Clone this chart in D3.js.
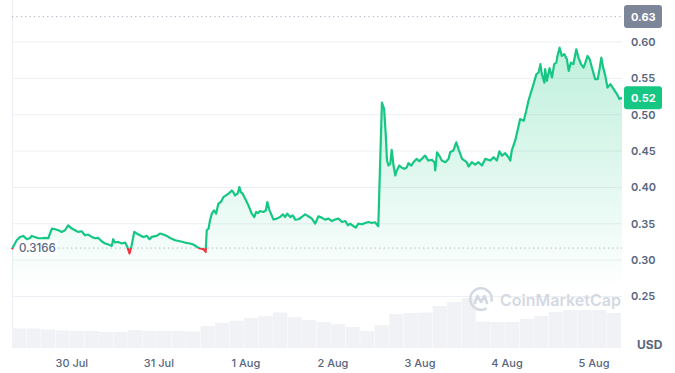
<!DOCTYPE html>
<html>
<head>
<meta charset="utf-8">
<script src="https://cdn.jsdelivr.net/npm/d3@7"></script>
<style>
  body { margin: 0; background: #fff; }
  svg { display: block; font-family: Inter, "Noto Sans", sans-serif; }
</style>
</head>
<body>
<svg id="chart" width="675" height="373"></svg>
<script>
// price: [hours since 29 Jul 00:00, USD]
const pricePoints = [
  [7.5,0.3151],[7.8,0.3182],[8.8,0.3274],[9.7,0.3319],[10.6,0.3333],[11.6,0.3288],[12.5,0.3305],[12.9,0.3333],
  [13.8,0.3319],[14.8,0.3301],[15.7,0.3301],[16.6,0.3305],[17.5,0.3301],[18.5,0.3434],[19.4,0.3425],[20.3,0.3411],
  [21.2,0.3388],[22.1,0.3411],[23.0,0.3479],[24.0,0.3434],[24.9,0.3411],[25.8,0.3388],[26.7,0.3397],[27.6,0.3342],
  [28.5,0.3352],[29.5,0.3319],[30.4,0.3301],[31.3,0.3305],[32.2,0.3260],[33.2,0.3229],[34.1,0.3215],[35.0,0.3196],
  [35.4,0.3288],[35.9,0.3242],[36.8,0.3251],[37.8,0.3229],[38.7,0.3242],[39.3,0.3182],[39.9,0.3092],[40.5,0.3205],
  [41.2,0.3388],[41.9,0.3366],[42.8,0.3342],[43.7,0.3319],[44.7,0.3333],[45.4,0.3288],[46.0,0.3319],[47.4,0.3333],
  [48.3,0.3366],[49.2,0.3352],[50.2,0.3333],[51.1,0.3305],[52.5,0.3274],[53.8,0.3260],[55.2,0.3242],[56.6,0.3229],
  [57.5,0.3215],[58.5,0.3182],[59.4,0.3160],[60.3,0.3151],[60.9,0.3114],[61.2,0.3411],[61.7,0.3434],[62.1,0.3548],
  [62.6,0.3640],[63.2,0.3685],[63.8,0.3640],[64.4,0.3777],[65.1,0.3799],[65.8,0.3867],[66.5,0.3890],[67.2,0.3914],
  [68.1,0.3959],[68.5,0.3936],[69.0,0.3890],[69.7,0.3914],[70.2,0.4004],[70.6,0.3936],[71.1,0.3914],[71.8,0.3845],
  [72.7,0.3753],[73.6,0.3640],[74.3,0.3593],[74.8,0.3662],[75.4,0.3648],[75.9,0.3675],[76.8,0.3662],[77.5,0.3685],
  [77.9,0.3799],[78.5,0.3685],[78.9,0.3640],[79.6,0.3558],[80.5,0.3571],[81.4,0.3593],[82.2,0.3630],[82.8,0.3593],
  [83.4,0.3640],[84.2,0.3593],[84.9,0.3616],[85.6,0.3558],[86.5,0.3562],[87.4,0.3593],[88.3,0.3630],[89.2,0.3603],
  [90.2,0.3571],[91.1,0.3503],[92.0,0.3603],[92.9,0.3585],[93.8,0.3558],[94.8,0.3571],[95.7,0.3538],[96.6,0.3558],
  [97.5,0.3571],[98.5,0.3525],[99.4,0.3538],[100.1,0.3479],[100.7,0.3503],[101.7,0.3466],[102.3,0.3448],[103.0,0.3503],
  [104.0,0.3493],[104.9,0.3511],[105.8,0.3525],[106.7,0.3511],[107.6,0.3521],[108.5,0.3466],[109.5,0.5168],[110.1,0.5082],
  [110.6,0.4689],[110.9,0.4370],[111.3,0.4301],[111.8,0.4325],[112.2,0.4516],[112.7,0.4301],[113.2,0.4164],[113.6,0.4233],
  [114.3,0.4301],[115.0,0.4270],[115.7,0.4256],[116.4,0.4278],[116.8,0.4333],[117.6,0.4301],[118.2,0.4347],[119.1,0.4393],
  [119.8,0.4360],[120.5,0.4393],[121.4,0.4438],[122.3,0.4370],[123.3,0.4379],[124.0,0.4347],[124.2,0.4233],[124.7,0.4484],
  [125.3,0.4438],[126.0,0.4370],[127.0,0.4347],[127.9,0.4393],[128.3,0.4484],[129.2,0.4507],[130.0,0.4621],[130.6,0.4530],
  [131.6,0.4393],[132.9,0.4347],[133.4,0.4288],[134.3,0.4347],[135.2,0.4315],[136.1,0.4347],[137.1,0.4301],[138.0,0.4393],
  [139.4,0.4370],[140.3,0.4415],[141.2,0.4370],[141.9,0.4497],[142.6,0.4438],[143.5,0.4470],[144.4,0.4415],[144.9,0.4370],
  [145.3,0.4507],[146.3,0.4653],[147.2,0.4849],[147.6,0.4941],[148.6,0.4918],[149.3,0.5055],[149.9,0.5192],[150.6,0.5305],
  [151.3,0.5421],[152.1,0.5558],[152.7,0.5579],[153.2,0.5695],[153.6,0.5558],[154.3,0.5442],[154.5,0.5626],[155.0,0.5466],
  [155.7,0.5640],[156.4,0.5511],[157.0,0.5695],[157.6,0.5716],[157.9,0.5808],[158.5,0.5922],[159.1,0.5808],[159.8,0.5832],
  [160.5,0.5763],[161.0,0.5603],[161.6,0.5716],[162.3,0.5695],[163.1,0.5900],[163.7,0.5785],[164.4,0.5695],[165.1,0.5648],
  [165.6,0.5716],[166.2,0.5808],[166.8,0.5763],[167.4,0.5648],[168.3,0.5489],[169.0,0.5489],[169.5,0.5626],[170.0,0.5785],
  [170.5,0.5648],[171.1,0.5534],[171.7,0.5374],[172.5,0.5421],[173.4,0.5352],[174.3,0.5284],[175.0,0.5215],[175.7,0.5233]
];

// volume, 4 hour buckets from 07:30 29 Jul (millions USD)
const volumes = [19.7,19.5,18.5,17.5,17,17,16,16,18,17,17,17,16.5,22,25.3,27.3,30,32,35.5,31,28,26,24,21,17,
                 23,34,35,35.5,42,46,50,26.3,26,26,29,32,36,38,38,38,35];
const volumeStart = 7.5, volumeStep = 4;

const yTicks = [0.25, 0.30, 0.35, 0.40, 0.45, 0.50, 0.55, 0.60];
const xTickHours = [24, 48, 72, 96, 120, 144, 168];
const xTickLabels = ["30 Jul", "31 Jul", "1 Aug", "2 Aug", "3 Aug", "4 Aug", "5 Aug"];

const openPrice = 0.3166;
const highPrice = 0.6349;
const lastPrice = pricePoints[pricePoints.length - 1][1];

const green = "#16c784", red = "#ea3943", grid = "#eceff3", label = "#58667e";
const left = 12, right = 622, bottom = 348;

const svg = d3.select("#chart");

const x = d3.scaleLinear().domain([7.5, 175.7]).range([left, right]);
const y = d3.scaleLinear().domain([0.25, 0.60]).range([296.5, 42]);
const vy = d3.scaleLinear().domain([0, 60]).range([bottom, bottom - 60]);
const fmt = d3.format(".2f");

// gradient + clips
const defs = svg.append("defs");
const grad = defs.append("linearGradient")
    .attr("id", "fillGrad")
    .attr("gradientUnits", "userSpaceOnUse")
    .attr("x1", 0).attr("x2", 0)
    .attr("y1", y(0.60)).attr("y2", y(0.26));
grad.append("stop").attr("offset", 0).attr("stop-color", green).attr("stop-opacity", 0.28);
grad.append("stop").attr("offset", 1).attr("stop-color", green).attr("stop-opacity", 0);

defs.append("clipPath").attr("id", "above")
  .append("rect").attr("x", 0).attr("y", 0).attr("width", 675).attr("height", y(openPrice));
defs.append("clipPath").attr("id", "below")
  .append("rect").attr("x", 0).attr("y", y(openPrice)).attr("width", 675).attr("height", 373 - y(openPrice));

// grid lines
svg.append("g").selectAll("line")
  .data(yTicks)
  .join("line")
    .attr("x1", left).attr("x2", right)
    .attr("y1", d => y(d)).attr("y2", d => y(d))
    .attr("stroke", grid);

svg.append("line")
    .attr("x1", left + 0.5).attr("x2", left + 0.5)
    .attr("y1", 0).attr("y2", bottom)
    .attr("stroke", grid);

// volume bars
svg.append("g").selectAll("rect")
  .data(volumes)
  .join("rect")
    .attr("x", (d, i) => x(volumeStart + i * volumeStep))
    .attr("width", (d, i) => Math.max(0, x(volumeStart + (i + 1) * volumeStep) - x(volumeStart + i * volumeStep) - 0.4))
    .attr("y", d => vy(d))
    .attr("height", d => bottom - vy(d))
    .attr("fill", "#f0f2f5");

// watermark
const wm = svg.append("g").attr("transform", "translate(481,299)");
wm.append("path")
    .attr("d", d3.arc()({ innerRadius: 9.5, outerRadius: 12, startAngle: 2.6, endAngle: 2.6 + Math.PI * 1.75 }))
    .attr("fill", "#d3d9e3");
wm.append("path")
    .attr("d", "M-6,4 L-3.5,-3 L0,3 L3.5,-3 L6,4")
    .attr("fill", "none").attr("stroke", "#d3d9e3").attr("stroke-width", 2.6)
    .attr("stroke-linejoin", "round").attr("stroke-linecap", "round");
svg.append("text")
    .attr("x", 500).attr("y", 306)
    .attr("font-size", 16).attr("font-weight", 600)
    .attr("fill", "#d3d9e3")
    .text("CoinMarketCap");

// area under price
const area = d3.area()
    .x(d => x(d[0]))
    .y0(bottom)
    .y1(d => y(d[1]));
svg.append("path")
    .datum(pricePoints)
    .attr("d", area)
    .attr("fill", "url(#fillGrad)");

// open price line + label
svg.append("line")
    .attr("x1", 58).attr("x2", right)
    .attr("y1", y(openPrice)).attr("y2", y(openPrice))
    .attr("stroke", "#a6b0c3").attr("stroke-dasharray", "1.2,3.2");
svg.append("rect")
    .attr("x", 14).attr("y", y(openPrice) - 8)
    .attr("width", 44).attr("height", 16)
    .attr("fill", "#fff").attr("fill-opacity", 0.85);
svg.append("text")
    .attr("x", 19).attr("y", y(openPrice))
    .attr("dy", "0.36em")
    .attr("font-size", 11.5).attr("font-weight", 500)
    .attr("fill", label)
    .text(openPrice);

// high line
svg.append("line")
    .attr("x1", left).attr("x2", right)
    .attr("y1", y(highPrice)).attr("y2", y(highPrice))
    .attr("stroke", "#a6b0c3").attr("stroke-dasharray", "1.2,3.2");

// price line, green above the open, red below
const line = d3.line()
    .x(d => x(d[0]))
    .y(d => y(d[1]));
svg.append("path")
    .datum(pricePoints)
    .attr("d", line)
    .attr("clip-path", "url(#above)")
    .attr("fill", "none").attr("stroke", green).attr("stroke-width", 2.2)
    .attr("stroke-linejoin", "round");
svg.append("path")
    .datum(pricePoints)
    .attr("d", line)
    .attr("clip-path", "url(#below)")
    .attr("fill", "none").attr("stroke", red).attr("stroke-width", 2.2)
    .attr("stroke-linejoin", "round");

// y axis labels
svg.append("g").selectAll("text")
  .data(yTicks)
  .join("text")
    .attr("x", 631).attr("y", d => y(d))
    .attr("dy", "0.36em")
    .attr("font-size", 11).attr("font-weight", 600)
    .attr("fill", label)
    .text(d => fmt(d));

// x axis labels
svg.append("g").selectAll("text")
  .data(xTickHours)
  .join("text")
    .attr("x", d => x(d)).attr("y", 367)
    .attr("text-anchor", "middle")
    .attr("font-size", 11).attr("font-weight", 500)
    .attr("fill", label)
    .text((d, i) => xTickLabels[i]);

svg.append("text")
    .attr("x", 637).attr("y", 349)
    .attr("font-size", 12).attr("font-weight", 700)
    .attr("fill", label)
    .text("USD");

// price tags on the right
function tag(value, color) {
  const g = svg.append("g");
  g.append("rect")
      .attr("x", 624).attr("y", y(value) - 11.5)
      .attr("width", 38).attr("height", 23)
      .attr("rx", 3)
      .attr("fill", color);
  g.append("text")
      .attr("x", 631).attr("y", y(value))
      .attr("dy", "0.36em")
      .attr("font-size", 11).attr("font-weight", 700)
      .attr("fill", "#fff")
      .text(fmt(value));
}
tag(highPrice, "#7d8599");
tag(lastPrice, green);
</script>
</body>
</html>
